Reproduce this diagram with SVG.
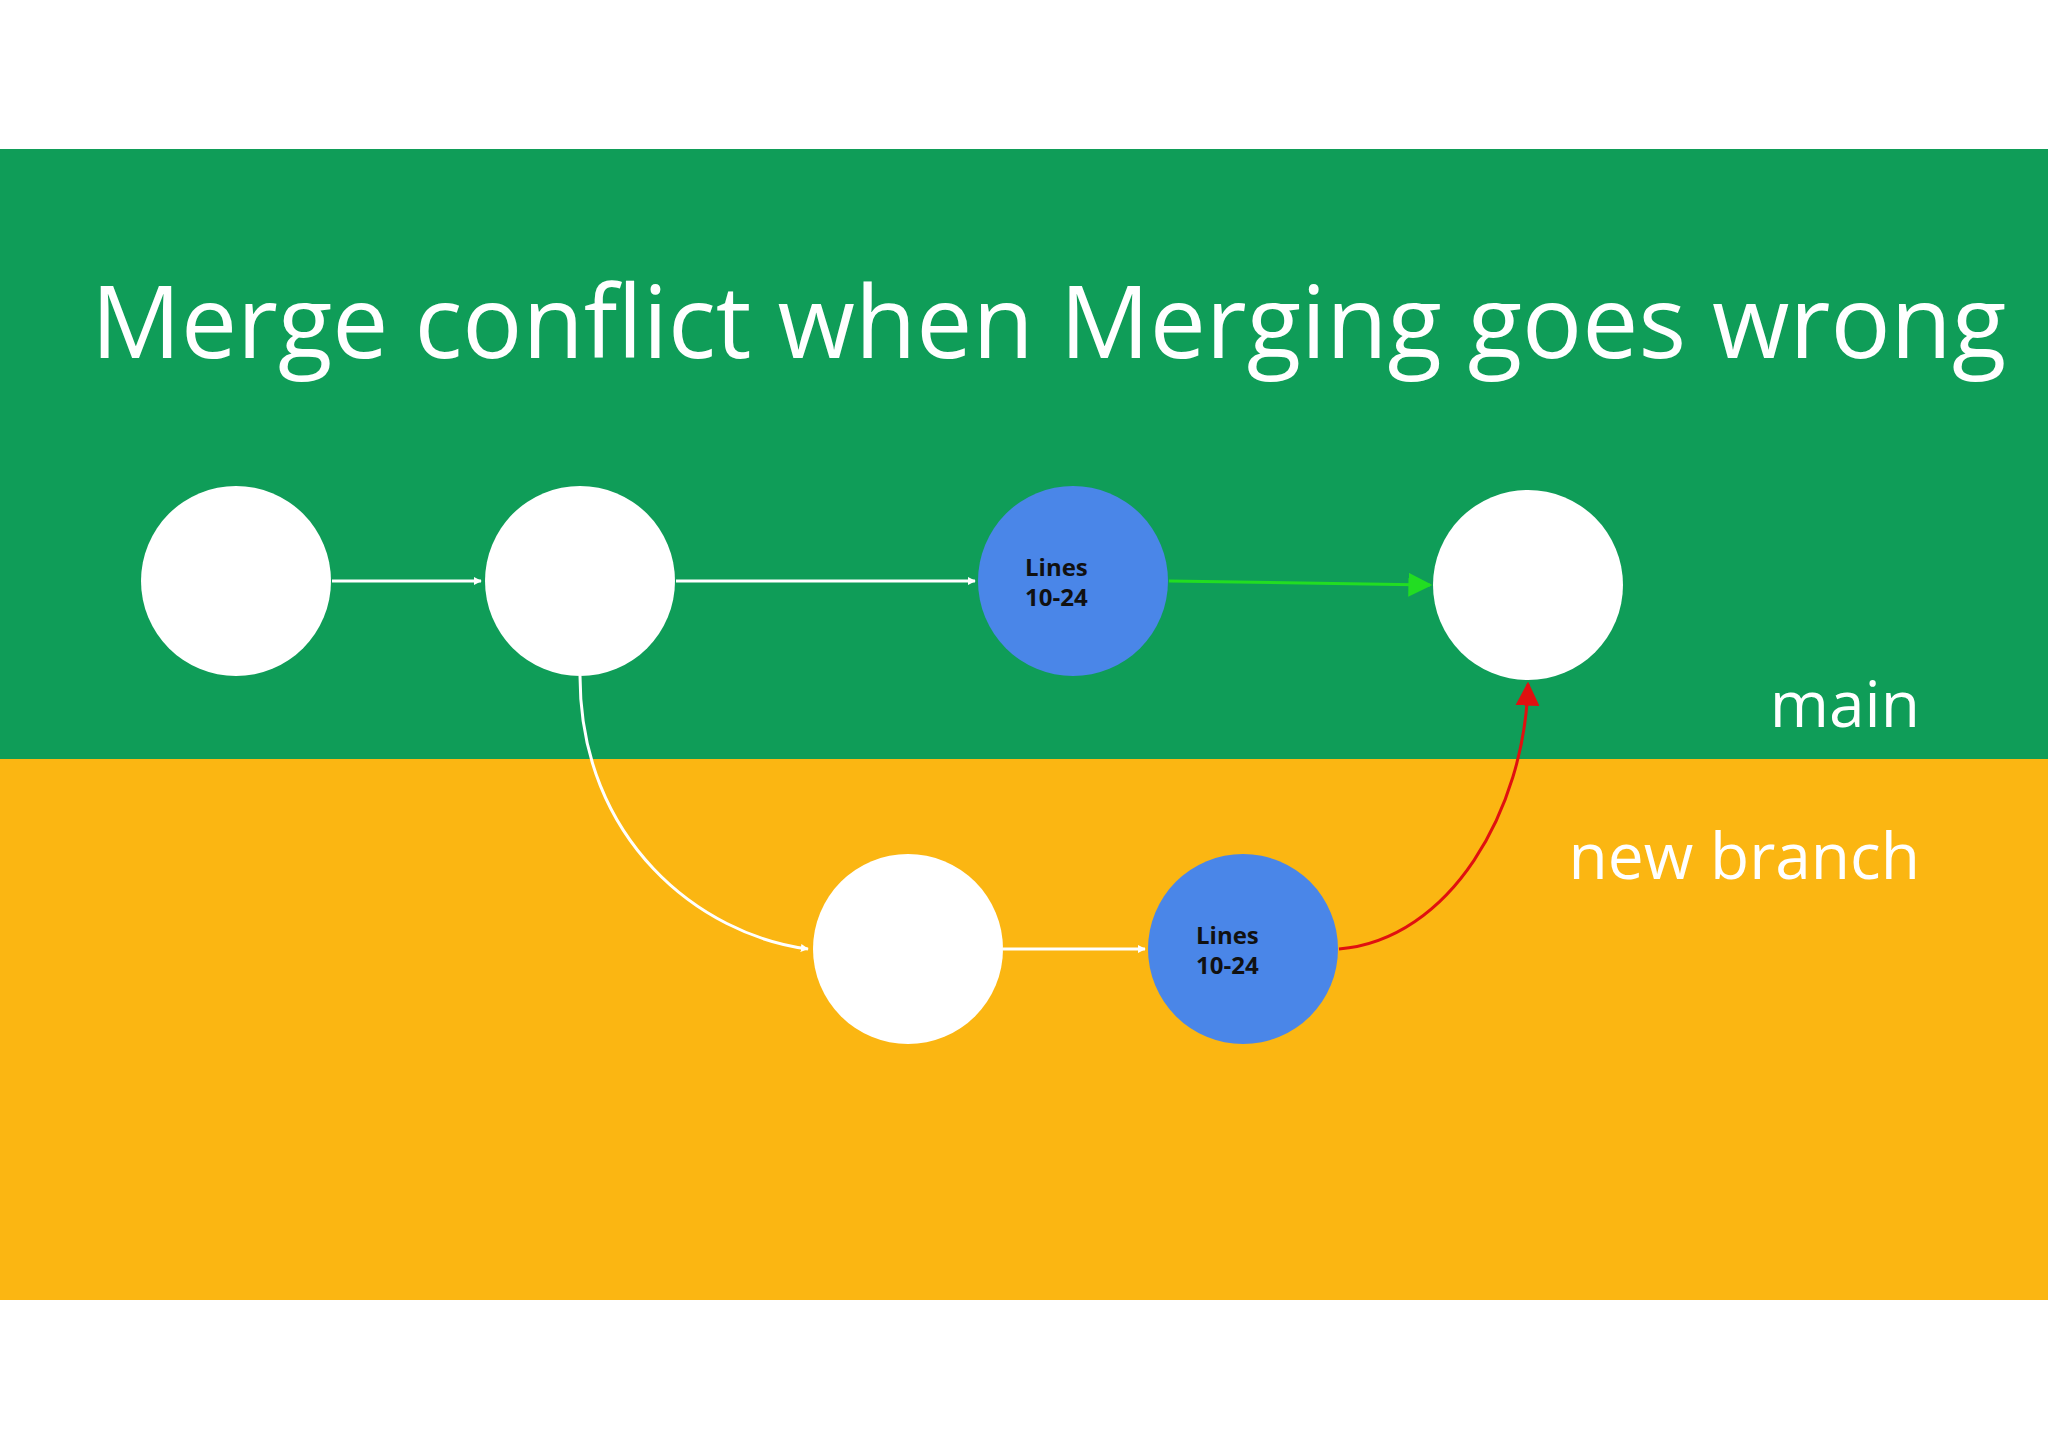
<svg xmlns="http://www.w3.org/2000/svg" width="2048" height="1448" viewBox="0 0 2048 1448">
<defs>
<style>
.node{fill:#fff}
.blue{fill:#4a86e8}
.lbl{font-family:"Open Sans","Noto Sans",sans-serif;fill:#fff}
.bl{font-family:"Open Sans","Noto Sans",sans-serif;font-weight:bold;font-size:24px;fill:#111}
.c{fill:none;stroke-width:3}
</style>
<marker id="aw" viewBox="0 0 10 10" refX="9" refY="5" markerWidth="8" markerHeight="8" markerUnits="userSpaceOnUse" orient="auto"><path d="M0,0L10,5L0,10z" fill="#fff"/></marker>
<marker id="ag" viewBox="0 0 10 10" refX="9" refY="5" markerWidth="8" markerHeight="8" orient="auto"><path d="M0,0L10,5L0,10z" fill="#22dd22"/></marker>
<marker id="ar" viewBox="0 0 10 10" refX="9" refY="5" markerWidth="8" markerHeight="8" orient="auto"><path d="M0,0L10,5L0,10z" fill="#e01010"/></marker>
</defs>
<rect width="2048" height="1448" fill="#fff"/>
<rect x="0" y="149" width="2048" height="610" fill="#0f9d58"/>
<rect x="0" y="759" width="2048" height="541" fill="#fbb612"/>
<text class="lbl" x="91" y="358" font-size="100">Merge conflict when Merging goes wrong</text>
<text class="lbl" x="1920" y="727" font-size="64" text-anchor="end">main</text>
<text class="lbl" x="1920" y="879" font-size="64" text-anchor="end">new branch</text>
<g id="connectors">
<path class="c" stroke="#fff" d="M332,581H481" marker-end="url(#aw)"/>
<path class="c" stroke="#fff" d="M676,581H975" marker-end="url(#aw)"/>
<path class="c" stroke="#22dd22" d="M1169,581L1430,585" marker-end="url(#ag)"/>
<path class="c" stroke="#fff" d="M580,676C580,840 700,935 808,949" marker-end="url(#aw)"/>
<path class="c" stroke="#fff" d="M1003,949H1145" marker-end="url(#aw)"/>
<path class="c" stroke="#e01010" d="M1339,949C1450,940 1525,810 1528,684" marker-end="url(#ar)"/>
</g>
<g id="n1"><circle class="node" cx="236" cy="581" r="95"/></g>
<g id="n2"><circle class="node" cx="580" cy="581" r="95"/></g>
<g id="n3"><circle class="blue" cx="1073" cy="581" r="95"/><text class="bl" x="1025" y="576">Lines</text><text class="bl" x="1025" y="606">10-24</text></g>
<g id="n4"><circle class="node" cx="1528" cy="585" r="95"/></g>
<g id="n5"><circle class="node" cx="908" cy="949" r="95"/></g>
<g id="n6"><circle class="blue" cx="1243" cy="949" r="95"/><text class="bl" x="1196" y="944">Lines</text><text class="bl" x="1196" y="974">10-24</text></g>
</svg>
